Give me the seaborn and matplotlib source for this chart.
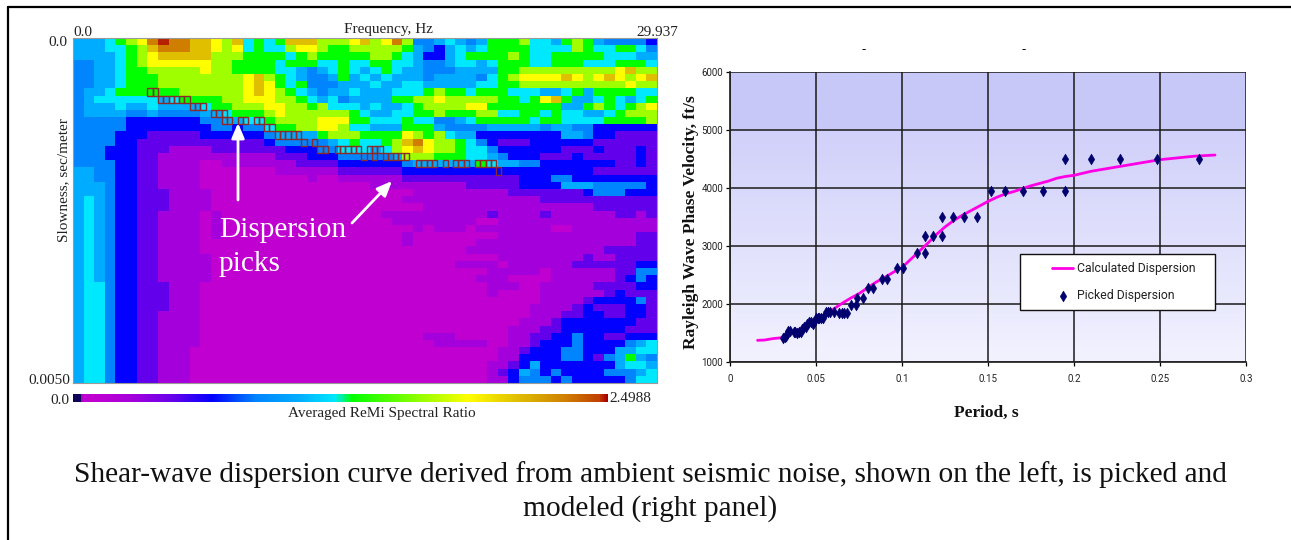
import numpy as np
import pandas as pd
import matplotlib
matplotlib.use("Agg")
import matplotlib.pyplot as plt
from matplotlib.colors import LinearSegmentedColormap
from matplotlib.patches import Rectangle
from matplotlib.lines import Line2D
import seaborn as sns

W, H = 1291, 540
VMAX = 2.4988

spectrum_left = [
 "5556789bcbbaa98a6767aaa88", "5556678abbbaa989676689987", "55556789aaaaa888777767877",
 "4455678999999887777677766", "4455677888889887777665456", "44556777888888889a8765445",
 "44556777888888889a9767444", "45567777778888889a9876545", "4566666656777788999887656",
 "4555655655556778889988786", "4555544544445567778988888", "4444433333334455667888899",
 "4444433333333443446778899", "4444333222223333334555578", "4444332222222222223444445",
 "4443332221111222222233344", "4443332211111111111222333", "4444332211110011111112222",
 "5544332211110000000111111", "5544332211110000000000100", "5554332211110000000000000",
 "5554332221111000000000000", "5654332221111000000000000", "5654332221111000000000000",
 "5654332211110100000000000", "5654332211110100000000000", "5654332211110100000000000",
 "5654332211110100000000000", "5654332211110000000000000", "5654332211110000000000000",
 "5654332211111000000000000", "5654332211111000000000000", "5654332211111000000000000",
 "5654332211111000000000000", "5664332221110000000000000", "5664332221110000000000000",
 "5664332221110000000000000", "5664332221110000000000000", "5664332211110000000000000",
 "5664332211110000000000000", "5664332211110000000000000", "5664332211110000000000000",
 "5664332211110000000000000", "5664332211100000000000000", "5664332211100000000000000",
 "5664332211100000000000000", "5664332211100000000000000", "5664332211100000000000000",
]
spectrum_right = [
 "89a89b844565457778665787544443", "788888754356567777666687667764", "777887653356777787667777766655",
 "766776654456656777667776667776", "765676554445555778888888889a88", "756565554555546789999a989a989a",
 "555655665555566778888888888988", "565556667877677766655675777766", "45555778898888877679a755676567",
 "665655678888997777777557876789", "876556677877788667767665567888", "977666766445677777677666677778",
 "866555777544445555545544333333", "887777987865533333333554332222", "676678ab9887643222333333222222",
 "6665689a9887664333333222322232", "444445888777665433322232222232", "333333455555576554433333332232",
 "222222333333333333333333222222", "111111222222222223334433333333", "000111111111222223333555444443",
 "000000011111111122222223444333", "000000111111111111122222222222", "000000001111111111111111222222",
 "000011111111112111121111112212", "000001111111100111111111111111", "000000010111011111110011111111",
 "000000100000000111111111111122", "000000100000011111111111111122", "000000000000111111111111122222",
 "000000000000000111111112112222", "000000000001111011111122222233", "000000000000001111101111112244",
 "000000000000011100001111112343", "000000000000001110011111222233", "000000000000001000011111123222",
 "000000000000000000011112333342", "000000000000000000111123222332", "000000000000000000111223322332",
 "000000000000000001112333333322", "000000000000000011122333333222", "000000001110000011223343322333",
 "000000000111110011233343333456", "000000000000000112333443335566", "000000000000000113333443245754",
 "000000000000001123533333335665", "000000000000001235434333344456", "000000000000001134443433333466",
]
assert all(len(a) == 25 for a in spectrum_left) and all(len(b) == 30 for b in spectrum_right)

# Colour level -> fraction of the colour scale
level_fraction = {"0": .04, "1": .11, "2": .19, "3": .26, "4": .34, "5": .42, "6": .49,
                  "7": .52, "8": .66, "9": .74, "a": .83, "b": .92, "c": .99}

# Dispersion picks: column in the fine grid of the picture, row of the grid
pick_cols = [14, 15, 16, 17, 18, 19, 20, 21, 22, 23, 24, 26, 27, 28, 28, 29, 31, 32, 34, 35, 36, 37,
             38, 39, 40, 41, 42, 43, 45, 46, 47, 49.3, 50.3, 51.3, 52.3, 53.3, 55.3, 56.3, 57.3,
             54.3, 56.3, 58.3, 59.3, 60.3, 61.3, 62.3, 64.6, 65.6, 66.6, 67.6, 69.6, 71.6, 72.6, 73.6,
             75.7, 76.7, 77.7, 78.7, 79.7]
pick_rows = [7, 7, 8, 8, 8, 8, 8, 8, 9, 9, 9, 10, 10, 10, 11, 11, 11, 11, 11, 11, 12, 12,
             13, 13, 13, 13, 13, 14, 14, 15, 15, 15, 15, 15, 15, 15, 15, 15, 15,
             16, 16, 16, 16, 16, 16, 16, 17, 17, 17, 17, 17, 17, 17, 17,
             17, 17, 17, 17, 18]

# Right panel
picked_period = [.031, .032, .0325, .033, .034, .035, .037, .038, .039, .040, .041, .042, .043, .044,
                 .045, .046, .047, .048, .049, .050, .051, .052, .053, .054, .056, .057, .058, .0605,
                 .0635, .065, .0665, .068, .0705, .0735, .0738, .0775, .0805, .083, .0885, .091, .097,
                 .1005, .109, .1135, .1135, .118, .123, .123, .1295, .136, .1435, .1515, .16, .1705,
                 .182, .195, .195, .21, .227, .248, .2725]
picked_velocity = [1400, 1420, 1440, 1480, 1530, 1530, 1510, 1510, 1500, 1510, 1510, 1560, 1590, 1590,
                   1650, 1680, 1680, 1650, 1680, 1750, 1750, 1750, 1750, 1750, 1850, 1850, 1850, 1850,
                   1840, 1840, 1840, 1840, 1970, 1980, 2090, 2090, 2270, 2270, 2420, 2420, 2620,
                   2620, 2870, 2870, 3160, 3160, 3160, 3500, 3500, 3500, 3500, 3940, 3940, 3940,
                   3940, 3940, 4500, 4500, 4500, 4500, 4500]
calc_period = [.016, .02, .025, .03, .035, .04, .045, .05, .055, .06, .065, .07, .075, .08, .085, .09,
               .095, .1, .105, .11, .115, .12, .125, .13, .135, .14, .145, .15, .155, .16, .165, .17,
               .175, .18, .185, .19, .195, .2, .21, .22, .23, .24, .25, .26, .27, .282]
calc_velocity = [1365, 1370, 1395, 1410, 1480, 1540, 1640, 1730, 1800, 1900, 2000, 2090, 2170, 2270,
                 2370, 2450, 2540, 2620, 2760, 2900, 3040, 3190, 3320, 3430, 3520, 3600, 3680, 3760,
                 3830, 3890, 3930, 3980, 4030, 4070, 4110, 4160, 4190, 4210, 4280, 4330, 4380, 4430,
                 4480, 4510, 4540, 4560]
x_ticks = [0, .05, .1, .15, .2, .25, .3]
x_labels = ["0", "0.05", "0.1", "0.15", "0.2", "0.25", "0.3"]
y_ticks = [1000, 2000, 3000, 4000, 5000, 6000]

CAPTION_1 = "Shear-wave dispersion curve derived from ambient seismic noise, shown on the left, is picked and"
CAPTION_2 = "modeled (right panel)"

sns.set_theme(style="white")
plt.rcParams["font.family"] = ["Liberation Serif", "DejaVu Serif"]
NARROW = ["Roboto", "Liberation Sans"]

fig = plt.figure(figsize=(W / 100, H / 100), dpi=100, facecolor="white")


def box(x0, y0, x1, y1):
    return [x0 / W, 1 - y1 / H, (x1 - x0) / W, (y1 - y0) / H]


def px(text, x, y, **kw):
    kw.setdefault("color", "#222222")
    kw.setdefault("va", "center")
    fig.text(x / W, 1 - y / H, text, **kw)


# Page frame
fig.add_artist(Line2D([8 / W, 8 / W], [0, 1 - 7 / H], color="black", lw=1.6))
fig.add_artist(Line2D([8 / W, 1], [1 - 7 / H, 1 - 7 / H], color="black", lw=1.6))

# Left panel
cmap = LinearSegmentedColormap.from_list("remi", [
    (0.0, "#10005a"), (0.012, "#10005a"), (0.016, "#c000d0"), (.04, "#c000d0"), (.11, "#a400dc"),
    (.19, "#6000ec"), (.26, "#0000ff"), (.34, "#0084ff"), (.42, "#00acff"), (.49, "#00e8ff"),
    (.52, "#00ff00"), (.66, "#a0ff00"), (.74, "#ffff00"), (.83, "#e0c000"), (.92, "#d08000"),
    (.985, "#c04000"), (1.0, "#a80000")])

spectrum = pd.DataFrame([[level_fraction[c] * VMAX for c in (a + b)]
                         for a, b in zip(spectrum_left, spectrum_right)])
ax = fig.add_axes(box(73, 38, 657, 383))
cax = fig.add_axes(box(73, 394, 608, 402))
sns.heatmap(spectrum, ax=ax, cmap=cmap, vmin=0, vmax=VMAX, cbar_ax=cax,
            cbar_kws={"orientation": "horizontal", "ticks": []},
            xticklabels=False, yticklabels=False)
cax.tick_params(length=0)
for spine in ax.spines.values():
    spine.set_visible(True)
    spine.set_color("#999999")
    spine.set_linewidth(0.8)

for c, r in zip(pick_cols, pick_rows):
    ax.add_patch(Rectangle((c / 2, r), 0.5, 1, fill=False, edgecolor="#8a2a2a", lw=1))

ax.annotate("", xy=(238, H - 123), xytext=(238, H - 200), xycoords="figure pixels",
            textcoords="figure pixels",
            arrowprops=dict(arrowstyle="-|>,head_width=0.32,head_length=0.75", color="white", lw=2,
                            shrinkA=0, shrinkB=0))
ax.annotate("", xy=(392, H - 181), xytext=(352, H - 223), xycoords="figure pixels",
            textcoords="figure pixels",
            arrowprops=dict(arrowstyle="-|>,head_width=0.32,head_length=0.75", color="white", lw=2,
                            shrinkA=0, shrinkB=0))
px("Dispersion", 219, 230, color="white", fontsize=21.2)
px("picks", 219, 264, color="white", fontsize=21.2)

SMALL = 11
px("0.0", 73, 33, fontsize=SMALL)
px("Frequency, Hz", 388, 30, ha="center", fontsize=SMALL)
px("29.937", 678, 33, ha="right", fontsize=SMALL)
px("0.0", 67, 43, ha="right", fontsize=SMALL)
px("0.0050", 70, 381, ha="right", fontsize=SMALL)
px("Slowness, sec/meter", 64, 180, rotation=90, ha="center", fontsize=SMALL)
px("0.0", 69, 401, ha="right", fontsize=SMALL)
px("2.4988", 609, 398, ha="left", fontsize=SMALL)
px("Averaged ReMi Spectral Ratio", 382, 413.5, ha="center", fontsize=SMALL)

# Right panel
ax2 = fig.add_axes(box(730, 71.5, 1246, 361.5))
bg_top = np.array([200, 200, 248]) / 255
bg_mid = np.array([208, 208, 250]) / 255
bg_low = np.array([242, 242, 255]) / 255
fractions = np.linspace(0, 1, 120)
gradient = np.array([bg_top if f < 0.2 else bg_mid + (bg_low - bg_mid) * (f - 0.2) / 0.8 for f in fractions])
ax2.imshow(gradient[:, None, :], extent=(0, .3, 1000, 6000), aspect="auto", zorder=0)
ax2.set_xlim(0, .3)
ax2.set_ylim(1000, 6000)
ax2.grid(True, color="#1a1a1a", lw=1.1, zorder=1)
ax2.set_axisbelow(True)
sns.lineplot(x=calc_period, y=calc_velocity, ax=ax2, color="#ff00e6", lw=2, zorder=3,
             label="Calculated Dispersion")
sns.scatterplot(x=picked_period, y=picked_velocity, ax=ax2, marker="d", s=30, color="#00006e",
                edgecolor="#00006e", linewidth=0.4, zorder=4, label="Picked Dispersion")
ax2.set_xticks(x_ticks)
ax2.set_xticklabels(x_labels, fontfamily=NARROW, fontsize=7, color="#222222")
ax2.set_yticks(y_ticks)
ax2.set_yticklabels([str(v) for v in y_ticks], fontfamily=NARROW, fontsize=7, color="#222222")
ax2.tick_params(axis="x", length=3, width=0.9, color="black", pad=6, bottom=True)
ax2.tick_params(axis="y", length=3, width=0.9, color="black", pad=2, left=True)
ax2.spines[["top", "right"]].set_visible(False)
ax2.spines[["left", "bottom"]].set_color("#222222")

# Legend: a fixed white box with a frameless legend placed inside it
ax2.add_patch(Rectangle(((1020 - 730) / 516, 1 - (310 - 71.5) / 290), 195 / 516, 56 / 290,
                        transform=ax2.transAxes, facecolor="white", edgecolor="#111111",
                        lw=1, zorder=4.5))
leg = ax2.legend(loc="upper left", bbox_to_anchor=((1050 - 730) / 516, 1 - (260 - 71.5) / 290),
                 borderaxespad=0, frameon=False, labelcolor="#222222",
                 prop={"family": NARROW, "size": 8.8}, handlelength=1.7, labelspacing=1.15,
                 borderpad=0.2, handletextpad=0.3)
leg.set_zorder(6)

px("-", 864, 50, ha="center", color="black", fontsize=9)
px("-", 1024, 50, ha="center", color="black", fontsize=9)
px("Rayleigh Wave Phase Velocity, ft/s", 691, 222, rotation=90, ha="center", color="#111111",
   fontsize=12.5, fontweight="bold")
px("Period, s", 986, 413, ha="center", color="#111111", fontsize=12.5, fontweight="bold")

# Caption
px(CAPTION_1, 650.5, 475, ha="center", color="#111111", fontsize=21.15)
px(CAPTION_2, 650.5, 509, ha="center", color="#111111", fontsize=21.15)

fig.savefig("out.png", dpi=100)
